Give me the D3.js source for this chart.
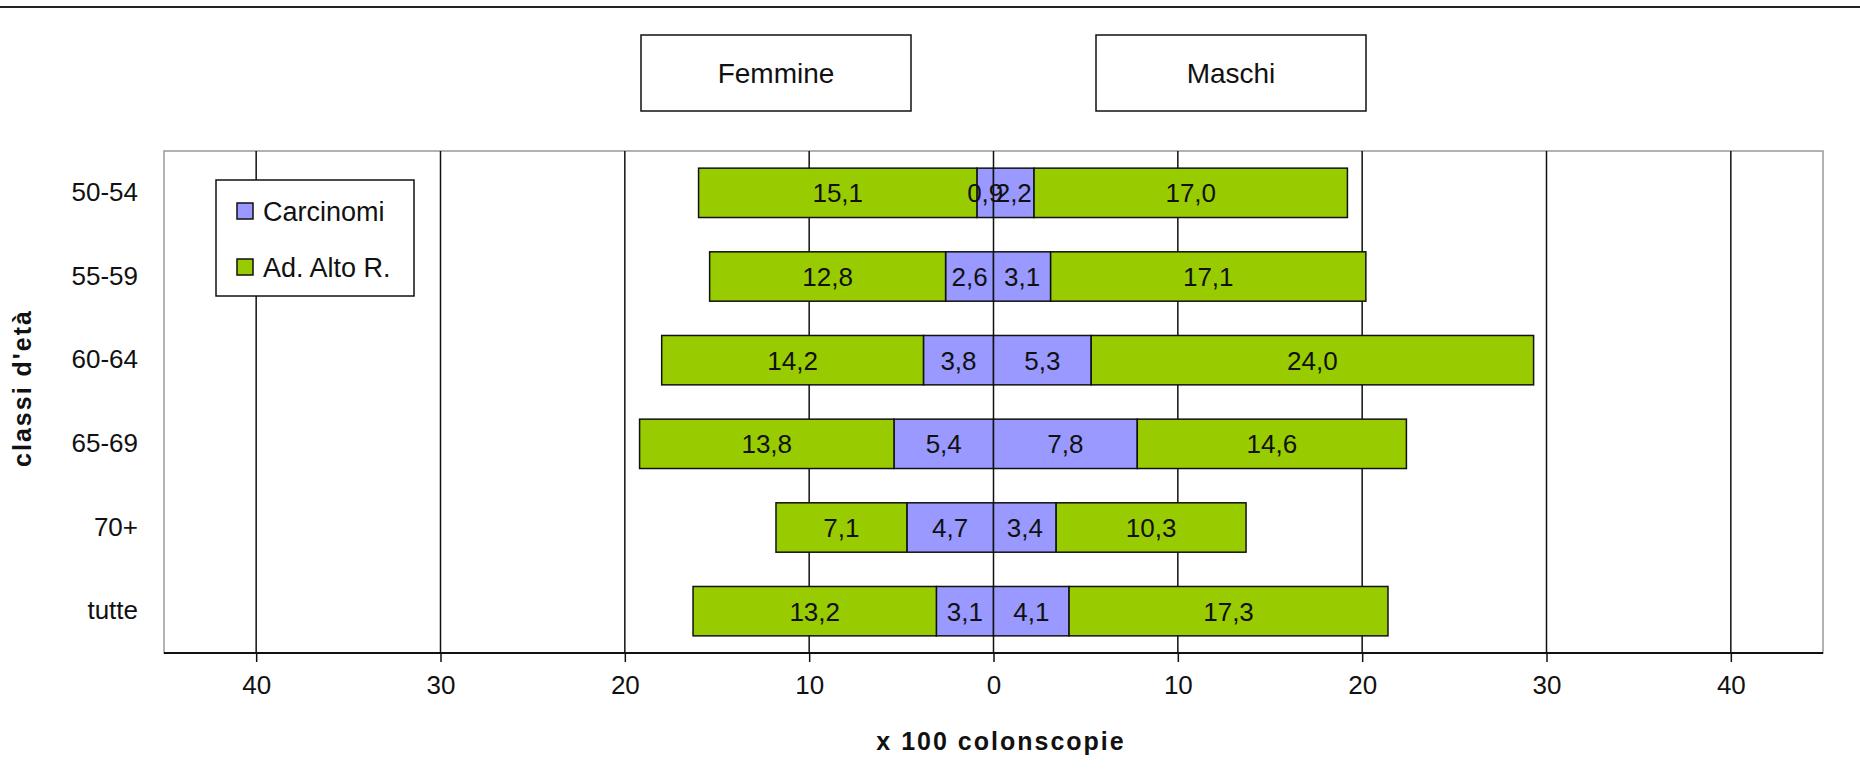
<!DOCTYPE html>
<html lang="it">

<head>
    <meta charset="UTF-8">
    <title>Carcinomi e adenomi per classi d'età</title>
    <script src="https://d3js.org/d3.v7.min.js"></script>
    <style>
        body { margin: 0; background: #fff; }
        svg text { font-family: "Liberation Sans", Arial, sans-serif; fill: #111; }
    </style>
</head>

<body>
    <svg id="chart" width="1860" height="784"></svg>

    <script>
        // classi d'età, dall'alto verso il basso
        const classi = ["50-54", "55-59", "60-64", "65-69", "70+", "tutte"];
        // valori x 100 colonscopie
        const femCarcinomi = [0.9, 2.6, 3.8, 5.4, 4.7, 3.1];
        const femAdenomi = [15.1, 12.8, 14.2, 13.8, 7.1, 13.2];
        const maschiCarcinomi = [2.2, 3.1, 5.3, 7.8, 3.4, 4.1];
        const maschiAdenomi = [17.0, 17.1, 24.0, 14.6, 10.3, 17.3];
        const xTicks = [-40, -30, -20, -10, 0, 10, 20, 30, 40];
        const serie = ["Carcinomi", "Ad. Alto R."];
        const colori = ["#9999ff", "#99cc00"];

        const svg = d3.select("#chart");
        const plot = { left: 164, right: 1823, top: 151, bottom: 653 };

        const x = d3.scaleLinear().domain([-45, 45]).range([plot.left, plot.right]);
        const y = d3.scaleBand().domain(classi).range([plot.top, plot.bottom]).paddingInner(0.41).paddingOuter(0.205);

        const fmt = v => v.toFixed(1).replace(".", ",");

        // linea in alto
        svg.append("line")
            .attr("x1", 0).attr("x2", 1860).attr("y1", 7).attr("y2", 7)
            .attr("stroke", "#222").attr("stroke-width", 2);

        // bordo area grafico
        svg.append("rect")
            .attr("x", plot.left).attr("y", plot.top)
            .attr("width", plot.right - plot.left).attr("height", plot.bottom - plot.top)
            .attr("fill", "#fff").attr("stroke", "#999").attr("stroke-width", 1.5);

        // griglia verticale
        svg.append("g").selectAll("line").data(xTicks).join("line")
            .attr("x1", d => x(d)).attr("x2", d => x(d))
            .attr("y1", plot.top).attr("y2", plot.bottom)
            .attr("stroke", "#111").attr("stroke-width", 1.5);

        // asse x
        const xAxis = svg.append("g")
            .attr("transform", `translate(0,${plot.bottom})`)
            .call(d3.axisBottom(x).tickValues(xTicks).tickFormat(d => Math.abs(d)).tickSize(9).tickPadding(14));
        xAxis.select(".domain").attr("stroke", "#111").attr("stroke-width", 2).attr("d", `M${plot.left},0H${plot.right}`);
        xAxis.selectAll(".tick line").attr("stroke", "#111").attr("stroke-width", 1.5);
        xAxis.selectAll("text").attr("font-size", 26).attr("fill", "#222");

        // asse y
        const yAxis = svg.append("g")
            .attr("transform", `translate(${plot.left},0)`)
            .call(d3.axisLeft(y).tickSize(0).tickPadding(26));
        yAxis.select(".domain").remove();
        yAxis.selectAll("text").attr("font-size", 26).attr("fill", "#222");

        // segmenti: carcinomi vicino allo zero, adenomi all'esterno
        const segmenti = [];
        classi.forEach((c, i) => {
            segmenti.push({ c, s: 0, x0: -femCarcinomi[i], x1: 0, v: femCarcinomi[i] });
            segmenti.push({ c, s: 1, x0: -femCarcinomi[i] - femAdenomi[i], x1: -femCarcinomi[i], v: femAdenomi[i] });
            segmenti.push({ c, s: 0, x0: 0, x1: maschiCarcinomi[i], v: maschiCarcinomi[i] });
            segmenti.push({ c, s: 1, x0: maschiCarcinomi[i], x1: maschiCarcinomi[i] + maschiAdenomi[i], v: maschiAdenomi[i] });
        });

        svg.append("g").selectAll("rect").data(segmenti).join("rect")
            .attr("x", d => x(d.x0))
            .attr("y", d => y(d.c))
            .attr("width", d => x(d.x1) - x(d.x0))
            .attr("height", y.bandwidth())
            .attr("fill", d => colori[d.s])
            .attr("stroke", "#111")
            .attr("stroke-width", 1.5);

        svg.append("g").selectAll("text").data(segmenti).join("text")
            .attr("x", d => (x(d.x0) + x(d.x1)) / 2)
            .attr("y", d => y(d.c) + y.bandwidth() / 2)
            .attr("dy", "0.36em")
            .attr("text-anchor", "middle")
            .attr("font-size", 26)
            .text(d => fmt(d.v));

        // legenda
        const leg = svg.append("g").attr("transform", "translate(216,180)");
        leg.append("rect").attr("width", 198).attr("height", 116)
            .attr("fill", "#fff").attr("stroke", "#111").attr("stroke-width", 1.5);
        serie.forEach((s, i) => {
            leg.append("rect").attr("x", 21).attr("y", 23 + i * 56).attr("width", 16).attr("height", 16)
                .attr("fill", colori[i]).attr("stroke", "#111").attr("stroke-width", 1.5);
            leg.append("text").attr("x", 47).attr("y", 31 + i * 56).attr("dy", "0.36em")
                .attr("font-size", 27).text(s);
        });

        // etichette Femmine / Maschi
        const gruppi = [{ t: "Femmine", x0: 641 }, { t: "Maschi", x0: 1096 }];
        gruppi.forEach(g => {
            svg.append("rect").attr("x", g.x0).attr("y", 35).attr("width", 270).attr("height", 76)
                .attr("fill", "#fff").attr("stroke", "#111").attr("stroke-width", 1.5);
            svg.append("text").attr("x", g.x0 + 135).attr("y", 73).attr("dy", "0.36em")
                .attr("text-anchor", "middle").attr("font-size", 28).text(g.t);
        });

        // titoli assi
        svg.append("text")
            .attr("x", 1001).attr("y", 741).attr("dy", "0.36em")
            .attr("text-anchor", "middle").attr("font-size", 25).attr("font-weight", "bold")
            .attr("letter-spacing", 2)
            .text("x 100 colonscopie");

        svg.append("text")
            .attr("transform", "translate(22,388) rotate(-90)")
            .attr("dy", "0.36em")
            .attr("text-anchor", "middle").attr("font-size", 25).attr("font-weight", "bold")
            .attr("letter-spacing", 2)
            .text("classi d'età");
    </script>

</body>

</html>
